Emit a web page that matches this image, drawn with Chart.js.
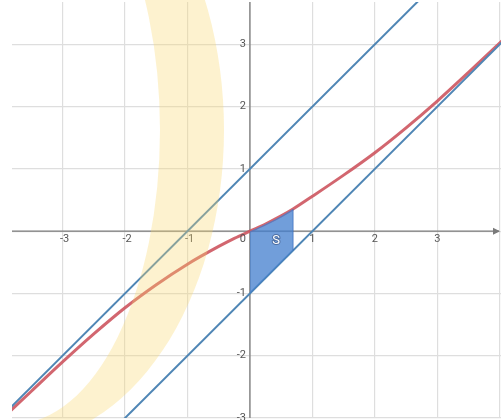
<!DOCTYPE html>
<html>
<head>
<meta charset="utf-8">
<script src="https://cdn.jsdelivr.net/npm/chart.js@4.4.1/dist/chart.umd.min.js"></script>
<style>
  html, body { margin: 0; padding: 0; background: #fff; }
  #wrap { width: 501px; height: 420px; }
</style>
</head>
<body>
<div id="wrap"><canvas id="graph"></canvas></div>
<script>
// red curve, values
const curveX = [-3.85, -3.5, -3, -2.5, -2, -1.5, -1, -0.5, -0.25, 0, 0.25, 0.5, 0.69, 1, 1.5, 2, 2.5, 3, 3.5, 4.05];
const curveY = [-2.9, -2.57, -2.1, -1.65, -1.23, -0.86, -0.53, -0.245, -0.115, 0, 0.115, 0.245, 0.355, 0.56, 0.9, 1.26, 1.66, 2.09, 2.55, 3.07];

// the two blue lines y = x + 1 and y = x - 1 (end points)
const lineX = [-4.5, 4.5];
const upperY = [-3.5, 5.5];
const lowerY = [-5.5, 3.5];

// shaded region S
const shadeX = [0, 0.25, 0.5, 0.69];
const shadeTop = [0, 0.115, 0.245, 0.355];
const shadeBottomX = [0, 0.69];
const shadeBottomY = [-1, -0.31];

const xTicks = [-3, -2, -1, 1, 2, 3];
const yTicks = [3, 2, 1, -1, -2, -3];

const pts = (xs, ys) => xs.map((x, i) => ({ x: x, y: ys[i] }));

const gridGray = '#dedede';
const axisGray = '#7a7a7a';
const labelGray = '#555';

// axes through the origin, arrow, tick labels, S label and the pale watermark ring
const axesPlugin = {
    id: 'axes',
    beforeDatasetsDraw(chart) {
        const { ctx, chartArea: a, scales: { x, y } } = chart;
        const x0 = x.getPixelForValue(0);
        const y0 = y.getPixelForValue(0);
        ctx.save();
        ctx.strokeStyle = axisGray;
        ctx.lineWidth = 1.3;
        ctx.beginPath();
        ctx.moveTo(a.left, y0);
        ctx.lineTo(a.right - 2, y0);
        ctx.moveTo(x0, a.top);
        ctx.lineTo(x0, a.bottom);
        ctx.stroke();
        // arrow on the x axis
        ctx.fillStyle = axisGray;
        ctx.beginPath();
        ctx.moveTo(a.right - 1, y0);
        ctx.lineTo(a.right - 8, y0 - 3.5);
        ctx.lineTo(a.right - 8, y0 + 3.5);
        ctx.closePath();
        ctx.fill();
        ctx.restore();
    },
    afterDraw(chart) {
        const { ctx, scales: { x, y } } = chart;
        const x0 = x.getPixelForValue(0);
        const y0 = y.getPixelForValue(0);
        ctx.save();
        ctx.font = '11px Roboto, "DejaVu Sans", sans-serif';
        ctx.fillStyle = labelGray;
        ctx.textAlign = 'center';
        ctx.textBaseline = 'top';
        xTicks.forEach(v => {
            ctx.fillText(String(v), x.getPixelForValue(v) + (v < 0 ? 2 : 0), y0 + 3);
        });
        ctx.textAlign = 'right';
        ctx.fillText('0', x0 - 4, y0 + 3);
        ctx.textBaseline = 'middle';
        yTicks.forEach(v => {
            ctx.fillText(String(v), x0 - 4, y.getPixelForValue(v));
        });

        // S label
        ctx.font = '13px Roboto, "DejaVu Sans", sans-serif';
        ctx.textAlign = 'center';
        ctx.lineWidth = 2;
        ctx.strokeStyle = 'rgba(70,100,150,0.8)';
        ctx.strokeText('S', x.getPixelForValue(0.42), y.getPixelForValue(-0.16));
        ctx.fillStyle = '#fff';
        ctx.fillText('S', x.getPixelForValue(0.42), y.getPixelForValue(-0.16));

        // watermark ring
        ctx.fillStyle = 'rgba(250, 215, 110, 0.33)';
        ctx.beginPath();
        ctx.ellipse(14, 130, 210, 312, 0, -Math.PI / 2, Math.PI / 2);
        ctx.ellipse(14, 130, 146, 294, 0, Math.PI / 2, -Math.PI / 2, true);
        ctx.closePath();
        ctx.fill();
        ctx.restore();
    }
};

const chart = new Chart(document.getElementById('graph').getContext('2d'), {
    type: 'line',
    data: {
        datasets: [
            {
                // bottom edge of S (drawn by the blue line already)
                data: pts(shadeBottomX, shadeBottomY),
                borderWidth: 0,
                pointRadius: 0,
                fill: false
            },
            {
                data: pts(shadeX, shadeTop),
                borderWidth: 0,
                pointRadius: 0,
                cubicInterpolationMode: 'monotone',
                backgroundColor: 'rgba(66, 125, 205, 0.75)',
                fill: '-1'
            },
            {
                // right edge of S
                data: pts([0.69, 0.69], [shadeBottomY[1], shadeTop[3]]),
                borderColor: 'rgba(50, 100, 180, 0.8)',
                borderWidth: 1,
                pointRadius: 0
            },
            {
                data: pts(lineX, upperY),
                borderColor: '#4f86b5',
                borderWidth: 2,
                pointRadius: 0
            },
            {
                data: pts(lineX, lowerY),
                borderColor: '#4f86b5',
                borderWidth: 2,
                pointRadius: 0
            },
            {
                data: pts(curveX, curveY),
                borderColor: 'rgba(205, 85, 95, 0.9)',
                borderWidth: 3,
                pointRadius: 0,
                cubicInterpolationMode: 'monotone'
            }
        ]
    },
    options: {
        responsive: true,
        maintainAspectRatio: false,
        animation: false,
        layout: { padding: { left: 12, top: 2, right: 0, bottom: 2 } },
        plugins: {
            legend: { display: false },
            tooltip: { enabled: false }
        },
        scales: {
            x: {
                type: 'linear',
                min: -3.81,
                max: 4.02,
                ticks: { display: false, stepSize: 1, includeBounds: false },
                grid: { color: gridGray, drawTicks: false, lineWidth: 1.2 },
                border: { display: false },
                afterFit: s => { s.height = 0; }
            },
            y: {
                type: 'linear',
                min: -3.0,
                max: 3.68,
                ticks: { display: false, stepSize: 1, includeBounds: false },
                grid: { color: gridGray, drawTicks: false, lineWidth: 1.2 },
                border: { display: false },
                afterFit: s => { s.width = 0; }
            }
        }
    },
    plugins: [axesPlugin]
});
</script>
</body>
</html>
